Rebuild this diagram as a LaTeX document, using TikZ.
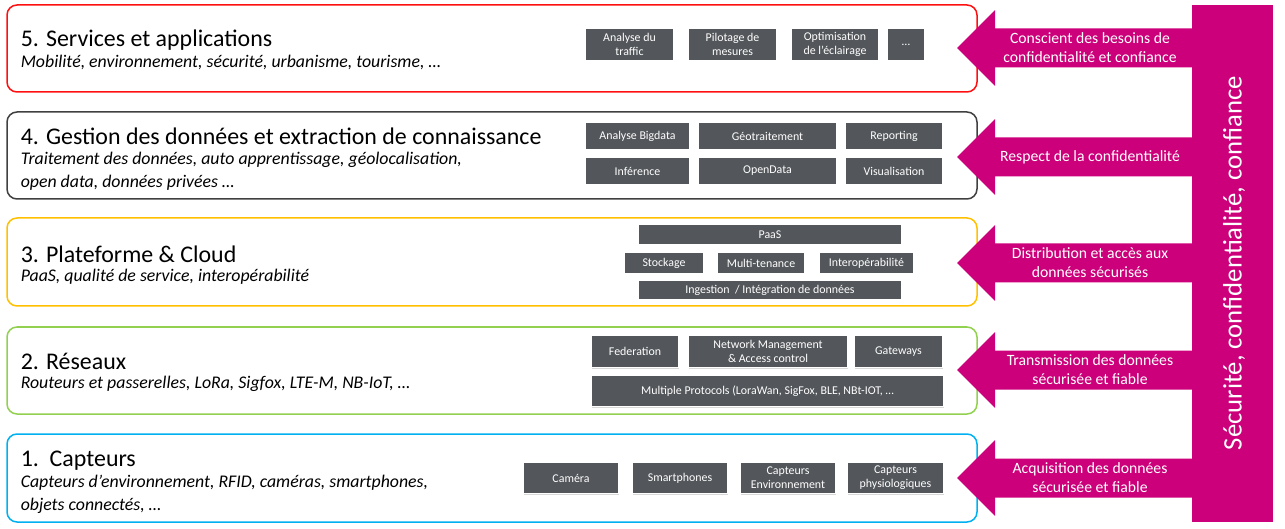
\documentclass[tikz,border=0pt]{standalone}
\usepackage{fontspec}
\setmainfont{Carlito}
\usetikzlibrary{shadows}
\definecolor{rouge}{HTML}{FF1010}
\definecolor{sombre}{HTML}{404040}
\definecolor{jaune}{HTML}{FFC000}
\definecolor{vert}{HTML}{92D050}
\definecolor{bleu}{HTML}{00B0F0}
\definecolor{gris}{HTML}{53565A}
\definecolor{magenta}{HTML}{CC007A}
\begin{document}
\begin{tikzpicture}[x=1pt,y=-1pt,line width=1.5pt,
  couche/.style={draw,rounded corners=10pt,minimum width=970pt,inner sep=0pt},
  titre/.style={anchor=west,inner sep=0pt,font=\fontsize{23.9}{28}\selectfont},
  soustitre/.style={anchor=west,inner sep=0pt,align=left,font=\fontsize{17.8}{23}\selectfont\itshape},
  bloc/.style={fill=gris,draw=white,line width=1.2pt,text=white,align=center,inner sep=0pt,
    font=\fontsize{11.9}{14}\selectfont,drop shadow={shadow xshift=.8pt,shadow yshift=-1pt,fill=black!30}},
  fleche/.style={text=white,align=center,inner sep=0pt,font=\fontsize{15.7}{19}\selectfont}]
\useasboundingbox (0,0) rectangle (1285,529);
% couches
\node[couche,draw=rouge,minimum height=87pt] (c5) at (492,48.5) {};
\node[couche,draw=sombre,minimum height=87pt] (c4) at (492,155.5) {};
\node[couche,draw=jaune,minimum height=88pt] (c3) at (492,262) {};
\node[couche,draw=vert,minimum height=87pt] (c2) at (492,370.5) {};
\node[couche,draw=bleu,minimum height=88pt] (c1) at (492,478) {};
% titres
\node[titre] (t5) at (20,40) {5. Services et applications};
\node[soustitre] (s5) at (20,62.5) {Mobilité, environnement, sécurité, urbanisme, tourisme, …};
\node[titre] (t4) at (20,136) {4. Gestion des données et extraction de connaissance};
\node[soustitre] (s4) at (20,171) {Traitement des données, auto apprentissage, géolocalisation,\\open data, données privées …};
\node[titre] (t3) at (20,254) {3. Plateforme \& Cloud};
\node[soustitre] (s3) at (20,276.5) {PaaS, qualité de service, interopérabilité};
\node[titre] (t2) at (20,361) {2. Réseaux};
\node[soustitre] (s2) at (20,383.5) {Routeurs et passerelles, LoRa, Sigfox, LTE-M, NB-IoT, …};
\node[titre] (t1) at (20,461) {1.\ \ Capteurs};
\node[soustitre] (s1) at (20,494.5) {Capteurs d'environnement, RFID, caméras, smartphones,\\objets connectés, …};
% blocs
\node[bloc,minimum width=88pt,minimum height=32pt] (b51) at (629.5,44.5) {Analyse du\\traffic};
\node[bloc,minimum width=88pt,minimum height=32pt] (b52) at (732.5,44.5) {Pilotage de\\mesures};
\node[bloc,minimum width=87pt,minimum height=32pt] (b53) at (835,44.5) {Optimisation\\de l'éclairage};
\node[bloc,minimum width=37pt,minimum height=32pt] (b54) at (906,44.5) {…};
\node[bloc,minimum width=104pt,minimum height=27pt] (b41) at (637.5,136) {Analyse Bigdata};
\node[bloc,minimum width=138pt,minimum height=27pt] (b42) at (767.5,136) {Géotraitement};
\node[bloc,minimum width=97pt,minimum height=27pt] (b43) at (894,136) {Reporting};
\node[bloc,minimum width=104pt,minimum height=27pt] (b44) at (637.5,171) {Inférence};
\node[bloc,minimum width=138pt,minimum height=27pt] (b45) at (767.5,171) {OpenData};
\node[bloc,minimum width=97pt,minimum height=27pt] (b46) at (894,171) {Visualisation};
\node[bloc,minimum width=263pt,minimum height=20pt] (b31) at (770,234.5) {PaaS};
\node[bloc,minimum width=79pt,minimum height=21pt] (b32) at (664,263) {Stockage};
\node[bloc,minimum width=87pt,minimum height=21pt] (b33) at (761,263) {Multi-tenance};
\node[bloc,minimum width=94pt,minimum height=21pt] (b34) at (866.5,263) {Interopérabilité};
\node[bloc,minimum width=263pt,minimum height=19pt] (b35) at (770,290) {Ingestion~ / Intégration de données};
\node[bloc,minimum width=87pt,minimum height=32pt] (b21) at (635,351.5) {Federation};
\node[bloc,minimum width=159pt,minimum height=32pt] (b22) at (768,351.5) {Network Management\\\& Access control};
\node[bloc,minimum width=88pt,minimum height=32pt] (b23) at (898.5,351.5) {Gateways};
\node[bloc,minimum width=352pt,minimum height=31pt] (b24) at (767.5,391) {Multiple Protocols (LoraWan, SigFox, BLE, NBt-IOT, …};
\node[bloc,minimum width=95pt,minimum height=31pt] (b11) at (571,478) {Caméra};
\node[bloc,minimum width=95pt,minimum height=31pt] (b12) at (680,478) {Smartphones};
\node[bloc,minimum width=95pt,minimum height=31pt] (b13) at (788,478) {Capteurs\\Environnement};
\node[bloc,minimum width=96pt,minimum height=31pt] (b14) at (895.5,478) {Capteurs\\physiologiques};
% axe et fleches
\fill[magenta] (1192,5) rectangle (1273,522);
\node[rotate=90,text=white,inner sep=0pt,font=\fontsize{26.7}{30}\selectfont] (axe) at (1234,263) {Sécurité, confidentialité, confiance};
\foreach \y/\txt [count=\i] in {48/{Conscient des besoins de\\confidentialité et confiance},157/{Respect de la confidentialité},
  263/{Distribution et accès aux\\données sécurisés},370/{Transmission des données\\sécurisée et fiable},478/{Acquisition des données\\sécurisée et fiable}}{
  \fill[magenta] (957,\y) -- (995,\y-38) -- (995,\y-19.5) -- (1193,\y-19.5) -- (1193,\y+19.5) -- (995,\y+19.5) -- (995,\y+38) -- cycle;
  \node[fleche] (f\i) at (1090,\y) {\txt};
}
\end{tikzpicture}
\end{document}
